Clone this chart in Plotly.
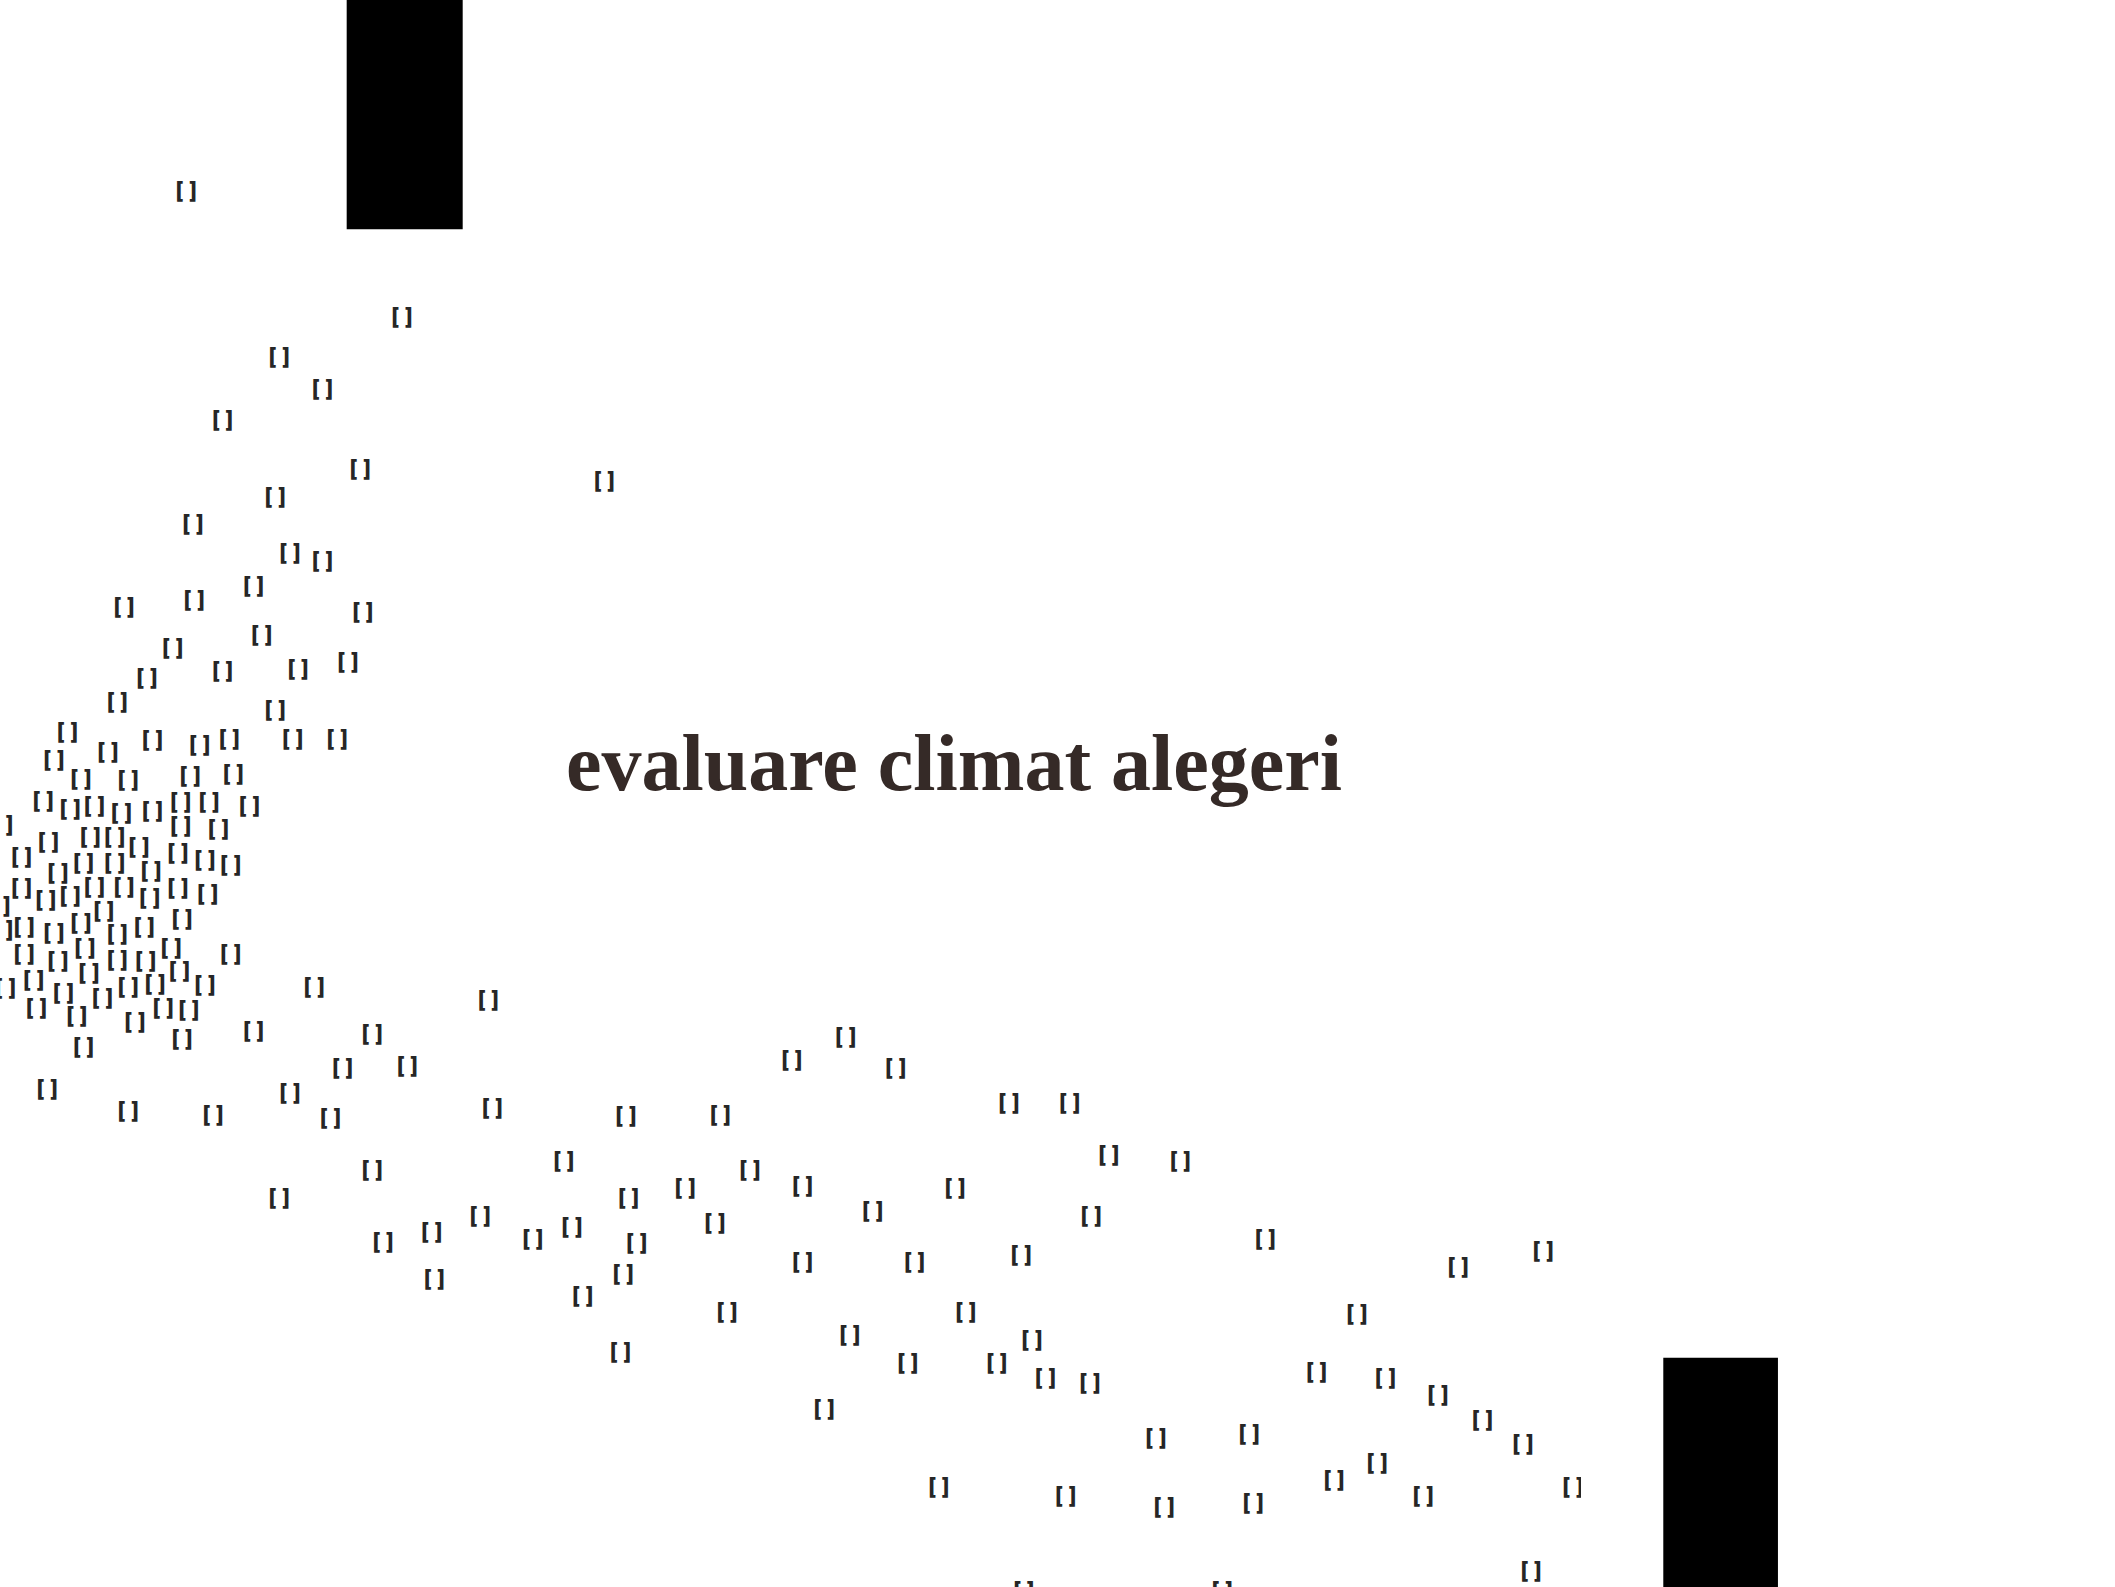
import plotly.graph_objects as go

# Marker positions (units of the chart's own scale: x 0..1172, y 0..1177 downward)
px = [138, 298, 207, 239, 165, 267, 448, 204, 143, 215, 239,
      92, 144, 188, 269, 194, 128, 165, 221, 258, 109, 87, 204,
      50, 80, 113, 148, 170, 217, 250, 40, 60, 95, 141, 173,
      32, 52, 70, 90, 113, 134, 155, 185,
      2, 36, 67, 85, 103, 134, 162,
      16, 43, 62, 85, 112, 132, 152, 171,
      16, 34, 52, 70, 92, 111, 132, 154,
      0, 18, 40, 60, 77, 87, 107, 135, 2,
      18, 43, 63, 66, 87, 108, 127, 133, 152, 171,
      4, 25, 47, 76, 95, 115, 233,
      27, 57, 100, 121, 140,
      62, 135, 188, 276, 362, 254, 302,
      35, 215, 245, 95, 158, 365, 464, 534,
      587, 627, 664, 748, 793,
      418, 276, 466, 556, 508, 595, 647, 708, 822, 875, 207,
      809, 530, 356, 320, 284, 395, 424, 472,
      938, 757, 595, 678, 1081, 1144,
      322, 462, 432, 539, 716, 1006,
      630, 765, 460, 673, 739, 775, 808, 976, 1027, 1066,
      611, 1099, 857, 926, 1129,
      1021, 989, 696, 790, 863, 929, 1055, 1166,
      1135, 759, 906]
py = [142, 235, 265, 289, 312, 348, 357, 369, 389, 410, 416,
      450, 445, 435, 454, 471, 481, 498, 496, 491, 503, 521, 527,
      543, 558, 549, 553, 548, 548, 548, 564, 578, 579, 576, 574,
      594, 600, 598, 603, 602, 595, 595, 598,
      612, 625, 621, 621, 628, 613, 615,
      636, 648, 640, 640, 646, 633, 638, 642,
      659, 668, 665, 658, 658, 666, 659, 663,
      672, 688, 692, 685, 676, 693, 688, 682, 690,
      708, 713, 703, 722, 712, 713, 703, 720, 731, 708,
      733, 727, 737, 740, 732, 730, 732,
      748, 754, 758, 748, 749,
      777, 771, 765, 767, 742, 792, 791,
      808, 811, 829, 824, 827, 822, 828, 827,
      786, 769, 792, 818, 818,
      861, 868, 889, 868, 881, 880, 898, 881, 857, 861, 889,
      902, 907, 902, 914, 921, 919, 910, 922,
      919, 931, 936, 936, 940, 928,
      949, 945, 961, 973, 973, 975,
      990, 994, 1003, 1011, 1011, 1022, 1026, 1018, 1022, 1035,
      1045, 1053, 1067, 1064, 1071,
      1085, 1098, 1103, 1110, 1118, 1115, 1110, 1103,
      1165, 1180, 1180]

# Black blocks (left, right, top, bottom) in the same units
block_x0 = [257, 1233]
block_x1 = [343, 1318]
block_y0 = [0, 1007]
block_y1 = [170, 1177]

title_text = "evaluare climat alegeri"
title_x = [707]
title_y = [566]

X_MAX = 1172
Y_MAX = 1177

fig = go.Figure()
fig.add_trace(go.Scatter(
    x=px, y=py, mode="text", text=["[ ]"] * len(px),
    textposition="middle center",
    textfont=dict(family="Open Sans", size=23, color="#262626", weight=800),
    cliponaxis=True, hoverinfo="skip", showlegend=False,
))

shapes = []
for x0, x1, y0, y1 in zip(block_x0, block_x1, block_y0, block_y1):
    shapes.append(dict(type="rect", xref="paper", yref="paper",
                       x0=x0 / X_MAX, x1=x1 / X_MAX,
                       y0=1 - y1 / Y_MAX, y1=1 - y0 / Y_MAX,
                       fillcolor="#000000", line=dict(width=0), layer="above"))

fig.update_layout(
    width=2115, height=1587,
    margin=dict(l=0, r=534, t=0, b=0),
    paper_bgcolor="white", plot_bgcolor="white",
    xaxis=dict(range=[0, X_MAX], visible=False, fixedrange=True),
    yaxis=dict(range=[Y_MAX, 0], visible=False, fixedrange=True),
    shapes=shapes,
    annotations=[dict(x=title_x[0], y=title_y[0], xref="x", yref="y",
                      text="<b>" + title_text + "</b>", showarrow=False,
                      xanchor="center", yanchor="middle",
                      font=dict(family="Liberation Serif", size=80, color="#352a27"))],
)

fig.write_html("out.html", config={"displayModeBar": False},
               post_script="document.body.style.margin='0';document.body.style.overflow='hidden';")
